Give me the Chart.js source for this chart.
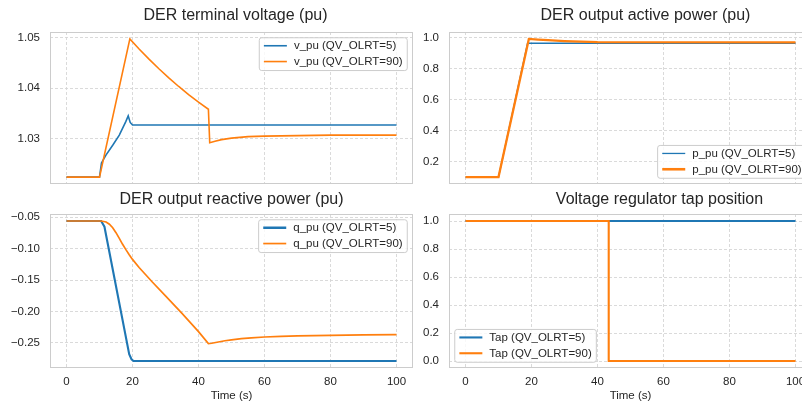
<!DOCTYPE html>
<html>
<head>
<meta charset="utf-8">
<script src="https://cdn.jsdelivr.net/npm/chart.js@4"></script>
<style>
html,body{margin:0;padding:0;overflow:hidden;background:#ffffff;width:802px;height:401px;position:relative;}
.box{position:absolute;}
</style>
</head>
<body>
<div class="box" style="left:0px;top:0px;width:420px;height:201px"><canvas id="cV"></canvas></div>
<div class="box" style="left:400px;top:0px;width:420px;height:201px"><canvas id="cP"></canvas></div>
<div class="box" style="left:0px;top:185px;width:420px;height:225px"><canvas id="cQ"></canvas></div>
<div class="box" style="left:400px;top:185px;width:420px;height:225px"><canvas id="cT"></canvas></div>
<script>
// ---------- data ----------
const xTickVals = [0, 20, 40, 60, 80, 100];

// DER terminal voltage (pu)
const vTime5  = [0, 10, 10.6, 12, 14, 16, 18, 18.7, 19.3, 20, 100];
const vPu5    = [1.0224, 1.0224, 1.0252, 1.0268, 1.0287, 1.0307, 1.0334, 1.0345, 1.0332, 1.0327, 1.0327];
const vTime90 = [0, 10, 19.2, 22, 25, 28, 31, 34, 37, 40, 43, 43.4, 45, 47, 50, 55, 60, 70, 80, 100];
const vPu90   = [1.0224, 1.0224, 1.0497, 1.0477, 1.0457, 1.0438, 1.0420, 1.0403, 1.0387, 1.0372, 1.0358,
                 1.0292, 1.0295, 1.0298, 1.0301, 1.0304, 1.0305, 1.0306, 1.0307, 1.0307];
const vTicks  = [1.03, 1.04, 1.05];

// DER output active power (pu)
const pTime5  = [0, 10, 18.8, 100];
const pPu5    = [0.1, 0.1, 0.965, 0.965];
const pTime90 = [0, 10, 19.2, 22, 25, 30, 35, 40, 100];
const pPu90   = [0.1, 0.1, 0.993, 0.989, 0.985, 0.979, 0.975, 0.972, 0.971];
const pTicks  = [0.2, 0.4, 0.6, 0.8, 1.0];

// DER output reactive power (pu)
const qTime5  = [0, 10.5, 11.5, 19, 19.7, 20.3, 100];
const qPu5    = [-0.0559, -0.0559, -0.065, -0.268, -0.276, -0.2787, -0.2787];
const qTime90 = [0, 10.5, 12, 13, 14, 15, 16, 17, 18, 19, 20, 22, 24, 26, 30, 35, 40, 43,
                 44, 46, 48, 50, 53, 56, 60, 65, 70, 80, 90, 100];
const qPu90   = [-0.0559, -0.0559, -0.0575, -0.061, -0.0665, -0.0745, -0.0835, -0.093, -0.1015, -0.1095, -0.117,
                 -0.130, -0.1415, -0.153, -0.175, -0.203, -0.232, -0.251,
                 -0.2505, -0.2485, -0.2465, -0.245, -0.2432, -0.2418, -0.2405, -0.2395, -0.2388, -0.2378, -0.2372, -0.2368];
const qTicks  = [-0.25, -0.20, -0.15, -0.10, -0.05];

// Voltage regulator tap position
const tapTime5  = [0, 100];
const tap5      = [1, 1];
const tapTime90 = [0, 43.4, 43.4, 100];
const tap90     = [1, 1, 0, 0];
const tapTicks  = [0.0, 0.2, 0.4, 0.6, 0.8, 1.0];

// ---------- helpers ----------
const FONT = "'Liberation Sans', Arial, Helvetica, sans-serif";
Chart.defaults.font.family = FONT;
const BLUE = '#1f77b4', ORANGE = '#ff7f0e';
const TXT = '#262626';

function pts(t, v) { return t.map((x, i) => ({x: x, y: v[i]})); }
function autoRange(arrs) {
  let lo = Infinity, hi = -Infinity;
  arrs.forEach(a => a.forEach(v => { lo = Math.min(lo, v); hi = Math.max(hi, v); }));
  const m = (hi - lo) * 0.05;
  return [lo - m, hi + m];
}
const xRange = autoRange([vTime5, vTime90, pTime5, pTime90, qTime5, qTime90, tapTime5, tapTime90]);

const spinePlugin = {
  id: 'spines',
  afterDatasetsDraw(chart) {
    const ctx = chart.ctx, ca = chart.chartArea;
    ctx.save();
    ctx.strokeStyle = '#cccccc';
    ctx.lineWidth = 1;
    const l = Math.round(ca.left), t = Math.round(ca.top), r = Math.round(ca.right), b = Math.round(ca.bottom);
    ctx.strokeRect(l + 0.5, t + 0.5, r - l - 1, b - t - 1);
    ctx.restore();
  }
};

const legendPlugin = {
  id: 'inLegend',
  afterDraw(chart, args, opts) {
    if (!opts || !opts.loc) return;
    const ctx = chart.ctx, ca = chart.chartArea;
    const fs = 11.5;
    ctx.save();
    ctx.font = fs + 'px ' + FONT;
    const ds = chart.data.datasets;
    const handleLen = 23, gap = 7, padX = 4.6, rowH = 15.8, padTop = 8, padBottom = 9, axPad = 5.75;
    const textW = Math.max.apply(null, ds.map(d => ctx.measureText(d.label).width));
    const w = padX + handleLen + gap + textW + padX;
    const h = padTop + (ds.length - 1) * rowH + padBottom;
    const x = opts.loc.indexOf('right') >= 0 ? ca.right - axPad - w : ca.left + axPad;
    const y = opts.loc.indexOf('upper') >= 0 ? ca.top + axPad : ca.bottom - axPad - h;
    const r = 2.5;
    ctx.beginPath();
    ctx.moveTo(x + r, y);
    ctx.lineTo(x + w - r, y); ctx.quadraticCurveTo(x + w, y, x + w, y + r);
    ctx.lineTo(x + w, y + h - r); ctx.quadraticCurveTo(x + w, y + h, x + w - r, y + h);
    ctx.lineTo(x + r, y + h); ctx.quadraticCurveTo(x, y + h, x, y + h - r);
    ctx.lineTo(x, y + r); ctx.quadraticCurveTo(x, y, x + r, y);
    ctx.closePath();
    ctx.fillStyle = 'rgba(255,255,255,0.8)';
    ctx.fill();
    ctx.strokeStyle = '#cccccc';
    ctx.lineWidth = 1;
    ctx.stroke();
    ds.forEach((d, i) => {
      const cy = y + padTop + i * rowH;
      ctx.strokeStyle = d.borderColor;
      ctx.lineWidth = d.legendWidth || d.borderWidth;
      ctx.beginPath();
      ctx.moveTo(x + padX, cy);
      ctx.lineTo(x + padX + handleLen, cy);
      ctx.stroke();
      ctx.fillStyle = TXT;
      ctx.textBaseline = 'middle';
      ctx.textAlign = 'left';
      ctx.fillText(d.label, x + padX + handleLen + gap, cy + 0.5);
    });
    ctx.restore();
  }
};

const titleShiftPlugin = {
  id: 'titleShift',
  afterLayout(chart, args, opts) {
    const t = chart.titleBlock;
    if (t && opts && opts.dx) { t.left += opts.dx; t.right += opts.dx; }
  }
};

function makeChart(id, c) {
  const yRange = autoRange(c.yArrays);
  return new Chart(document.getElementById(id), {
    type: 'line',
    data: {
      datasets: c.series.map(s => ({
        label: s.label,
        data: pts(s.t, s.v),
        borderColor: s.color,
        backgroundColor: s.color,
        borderWidth: s.width,
        legendWidth: s.legendWidth,
        pointRadius: 0,
        tension: 0,
        fill: false,
        order: s.order
      }))
    },
    plugins: [spinePlugin, legendPlugin, titleShiftPlugin],
    options: {
      animation: false,
      responsive: true,
      maintainAspectRatio: false,
      events: [],
      layout: {padding: {left: 0, right: c.padR, top: 0, bottom: 0}},
      plugins: {
        legend: {display: false},
        tooltip: {enabled: false},
        title: {
          display: true, text: c.title, fullSize: false, color: TXT,
          font: {size: 16, weight: 'normal', lineHeight: 1.2},
          padding: {top: c.titleTop, bottom: c.titleBottom}
        },
        inLegend: {loc: c.legendLoc},
        titleShift: {dx: c.titleDx}
      },
      scales: {
        x: {
          type: 'linear', min: xRange[0], max: xRange[1],
          afterBuildTicks: s => { s.ticks = xTickVals.map(v => ({value: v})); },
          afterFit: s => { s.height = c.xHeight; },
          ticks: {display: c.showX, padding: 6.8, color: TXT, font: {size: 11.5}, autoSkip: false, maxRotation: 0,
                  callback: v => String(v)},
          grid: {color: '#d6d6d6', lineWidth: 0.9, drawTicks: false},
          border: {display: false, dash: [3, 2]},
          title: {display: c.showX, text: 'Time (s)', color: TXT, font: {size: 11.5}, padding: {top: 0, bottom: 7.1}}
        },
        y: {
          type: 'linear', min: yRange[0], max: yRange[1],
          afterBuildTicks: s => { s.ticks = c.yTicks.map(v => ({value: v})); },
          afterFit: s => { s.width = c.yWidth; },
          ticks: {padding: 10, color: TXT, font: {size: 11.5}, autoSkip: false,
                  callback: v => v.toFixed(c.yDec).replace('-', '\u2212')},
          grid: {color: '#d6d6d6', lineWidth: 0.9, drawTicks: false},
          border: {display: false, dash: [3, 2]}
        }
      }
    }
  });
}

makeChart('cV', {
  title: 'DER terminal voltage (pu)', titleTop: 6.4, titleBottom: 6.4, titleDx: 4,
  padR: 7, yWidth: 50, xHeight: 17, showX: false,
  yArrays: [vPu5, vPu90], yTicks: vTicks, yDec: 2, legendLoc: 'upper right',
  series: [
    {label: 'v_pu (QV_OLRT=5)', t: vTime5, v: vPu5, color: BLUE, width: 1.6, legendWidth: 1.6, order: 1},
    {label: 'v_pu (QV_OLRT=90)', t: vTime90, v: vPu90, color: ORANGE, width: 1.6, legendWidth: 1.6, order: 0}
  ]
});

makeChart('cP', {
  title: 'DER output active power (pu)', titleTop: 6.4, titleBottom: 6.4, titleDx: 15,
  padR: 8, yWidth: 49, xHeight: 17, showX: false,
  yArrays: [pPu5, pPu90], yTicks: pTicks, yDec: 1, legendLoc: 'lower right',
  series: [
    {label: 'p_pu (QV_OLRT=5)', t: pTime5, v: pPu5, color: BLUE, width: 1.3, legendWidth: 1.3, order: 1},
    {label: 'p_pu (QV_OLRT=90)', t: pTime90, v: pPu90, color: ORANGE, width: 2.3, legendWidth: 2.6, order: 0}
  ]
});

makeChart('cQ', {
  title: 'DER output reactive power (pu)', titleTop: 5.4, titleBottom: 4.4, titleDx: 0,
  padR: 7, yWidth: 50, xHeight: 42, showX: true,
  yArrays: [qPu5, qPu90], yTicks: qTicks, yDec: 2, legendLoc: 'upper right',
  series: [
    {label: 'q_pu (QV_OLRT=5)', t: qTime5, v: qPu5, color: BLUE, width: 2.1, legendWidth: 2.5, order: 1},
    {label: 'q_pu (QV_OLRT=90)', t: qTime90, v: qPu90, color: ORANGE, width: 1.7, legendWidth: 1.7, order: 0}
  ]
});

makeChart('cT', {
  title: 'Voltage regulator tap position', titleTop: 5.4, titleBottom: 4.4, titleDx: 29,
  padR: 8, yWidth: 49, xHeight: 42, showX: true,
  yArrays: [tap5, tap90], yTicks: tapTicks, yDec: 1, legendLoc: 'lower left',
  series: [
    {label: 'Tap (QV_OLRT=5)', t: tapTime5, v: tap5, color: BLUE, width: 2.1, legendWidth: 2.1, order: 1},
    {label: 'Tap (QV_OLRT=90)', t: tapTime90, v: tap90, color: ORANGE, width: 2.1, legendWidth: 2.1, order: 0}
  ]
});
</script>
</body>
</html>
